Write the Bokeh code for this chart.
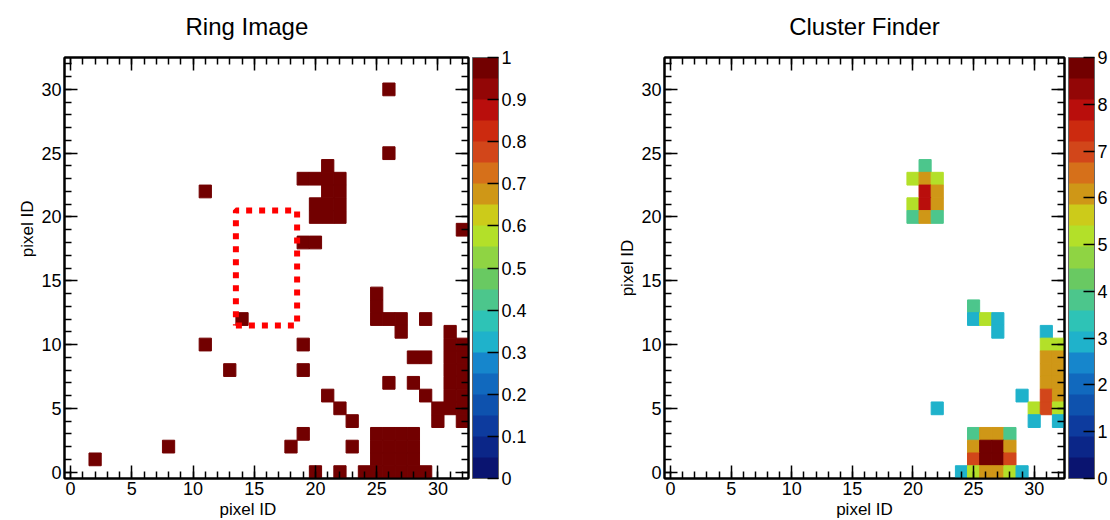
import numpy as np
from bokeh.plotting import figure
from bokeh.models import (LinearColorMapper, ColorBar, LinearAxis, SingleIntervalTicker,
                          FixedTicker, NumeralTickFormatter, Title, Range1d, ColumnDataSource,
                          CustomLabelingPolicy)
from bokeh.layouts import row
from bokeh.embed import file_html
from bokeh.resources import INLINE

# ---------------- data ----------------
ring_x = [2, 8, 11, 11, 13, 14, 18, 19, 19, 19, 19, 20,
          19, 20, 21, 22, 21, 21, 22, 20, 21, 22, 20, 21, 22,
          26, 26, 32,
          25, 25, 25, 26, 27, 27, 29,
          31, 31, 31, 31, 31, 31, 32, 32, 32, 32, 32, 30, 31, 32, 30, 32,
          28, 29, 26, 28, 29,
          21, 22, 23, 23,
          25, 26, 27, 28, 25, 26, 27, 28, 25, 26, 27, 28,
          20, 22, 24, 25, 26, 27, 28, 29]
ring_y = [1, 2, 22, 10, 8, 12, 2, 3, 8, 10, 18, 18,
          23, 23, 23, 23, 24, 22, 22, 21, 21, 21, 20, 20, 20,
          30, 25, 19,
          14, 13, 12, 12, 12, 11, 12,
          11, 10, 9, 8, 7, 6, 10, 9, 8, 7, 6, 5, 5, 5, 4, 4,
          9, 9, 7, 7, 6,
          6, 5, 4, 2,
          3, 3, 3, 3, 2, 2, 2, 2, 1, 1, 1, 1,
          0, 0, 0, 0, 0, 0, 0, 0]
ring_v = [1] * len(ring_x)

cluster_x = [21, 20, 21, 22, 21, 22, 20, 21, 22, 20, 21, 22,
             25, 25, 26, 27, 27, 31, 31, 32, 31, 32, 31, 32, 31, 32,
             29, 31, 32, 22, 30, 31, 32, 30, 32,
             25, 26, 27, 28, 25, 26, 27, 28, 25, 26, 27, 28, 24, 25, 26, 27, 28, 29]
cluster_y = [24, 23, 23, 23, 22, 22, 21, 21, 21, 20, 20, 20,
             13, 12, 12, 12, 11, 11, 10, 10, 9, 9, 8, 8, 7, 7,
             6, 6, 6, 5, 5, 5, 5, 4, 4,
             3, 3, 3, 3, 2, 2, 2, 2, 1, 1, 1, 1, 0, 0, 0, 0, 0, 0]
cluster_v = [4, 5, 6, 5, 8, 6, 5, 8, 6, 4, 6, 4,
             4, 3, 5, 3, 3, 3, 5, 5, 6, 6, 6, 6, 6, 6,
             3, 7, 6, 3, 5, 7, 5, 3, 3,
             4, 6, 6, 4, 6, 9, 9, 6, 7, 9, 9, 7, 3, 5, 6, 6, 5, 3]

# dotted box drawn on the ring image
box_x = [13.5, 18.5, 18.5, 13.5, 13.5]
box_y = [11.5, 11.5, 20.5, 20.5, 11.5]

ring_cb_ticks = [0, 0.1, 0.2, 0.3, 0.4, 0.5, 0.6, 0.7, 0.8, 0.9, 1]
cluster_cb_ticks = [0, 1, 2, 3, 4, 5, 6, 7, 8, 9]

palette = ["#0a1470", "#0b2688", "#0d3b9e", "#0e52ae", "#1169be", "#1686cc",
           "#1fb2cb", "#2ec3b6", "#4cc68c", "#69c962", "#8fd443", "#b3e029",
           "#cccb1a", "#cf9717", "#d6701a", "#d2461a", "#cc2a0f", "#b90e0c",
           "#930606", "#720000"]

FONT = "Liberation Sans"


def style_axis(ax, labels=True):
    ax.ticker = SingleIntervalTicker(interval=5, num_minor_ticks=5)
    ax.major_tick_in = 13
    ax.major_tick_out = 0
    ax.minor_tick_in = 7
    ax.minor_tick_out = 0
    ax.axis_line_width = 2
    ax.axis_line_color = "black"
    ax.major_tick_line_width = 1.5
    ax.minor_tick_line_width = 1.5
    ax.major_tick_line_color = "black"
    ax.minor_tick_line_color = "black"
    if labels:
        ax.major_label_text_font = FONT
        ax.major_label_text_font_size = "18px"
        ax.major_label_text_color = "black"
        ax.major_label_standoff = 3
    else:
        ax.major_label_text_font_size = "1px"
        ax.major_label_standoff = 0
        ax.major_label_policy = CustomLabelingPolicy(
            code="for (const i of indices) { indices.unset(i) } return indices")


def make_panel(xs, ys, vs, vmax, cb_ticks, title, title_align, title_off,
               xlab_align, xlab_off, ylab_align, ylab_off, width, mb_right):
    p = figure(width=width, height=520, x_range=Range1d(-0.5, 32.5), y_range=Range1d(-0.5, 32.5),
               output_backend="svg", toolbar_location=None,
               min_border_left=64, min_border_right=mb_right, min_border_top=57, min_border_bottom=42)
    p.grid.visible = False
    p.outline_line_color = "black"
    p.outline_line_width = 2
    p.background_fill_color = "white"
    p.border_fill_color = "white"

    mapper = LinearColorMapper(palette=palette, low=0, high=vmax)
    src = ColumnDataSource(dict(x=xs, y=ys, v=vs))
    p.rect(x="x", y="y", width=1, height=1, source=src,
           fill_color={"field": "v", "transform": mapper}, fill_alpha=1.0,
           line_color={"field": "v", "transform": mapper}, line_alpha=1.0, line_width=1)

    style_axis(p.xaxis[0])
    style_axis(p.yaxis[0])
    top = LinearAxis()
    style_axis(top, labels=False)
    p.add_layout(top, "above")
    right = LinearAxis()
    style_axis(right, labels=False)
    p.add_layout(right, "right")

    cb = ColorBar(color_mapper=mapper, ticker=FixedTicker(ticks=cb_ticks),
                  formatter=NumeralTickFormatter(format="0.[0]"),
                  width=26, padding=0, margin=0, label_standoff=3,
                  major_tick_in=11, major_tick_out=0, major_tick_line_color="black",
                  major_tick_line_width=1.5, minor_tick_line_color=None,
                  major_label_text_font=FONT, major_label_text_font_size="18px",
                  major_label_text_color="black", bar_line_color="#666666",
                  border_line_color=None, background_fill_color=None)
    p.add_layout(cb, "right")

    p.add_layout(Title(text=title, align=title_align, offset=title_off, text_font=FONT,
                       text_font_size="24px", text_font_style="normal", text_color="black",
                       vertical_align="top", standoff=23), "above")
    p.add_layout(Title(text="pixel ID", align=xlab_align, offset=xlab_off, text_font=FONT,
                       text_font_size="17px", text_font_style="normal", text_color="black",
                       standoff=0, text_line_height=0.8), "below")
    p.add_layout(Title(text="pixel ID", align=ylab_align, offset=ylab_off, text_font=FONT,
                       text_font_size="17px", text_font_style="normal", text_color="black",
                       standoff=4), "left")
    return p


p1 = make_panel(ring_x, ring_y, ring_v, 1, ring_cb_ticks, "Ring Image", "left", 121,
                "left", 155, "right", 143, 600, 132)
p1.line(box_x, box_y, line_color="#ff0000", line_width=6, line_dash="6 7", line_cap="butt")

p2 = make_panel(cluster_x, cluster_y, cluster_v, 9, cluster_cb_ticks, "Cluster Finder", "center", 0,
                "center", 0, "center", 0, 510, 42)

layout = row(p1, p2)
open("out.html", "w").write(file_html(layout, INLINE))
